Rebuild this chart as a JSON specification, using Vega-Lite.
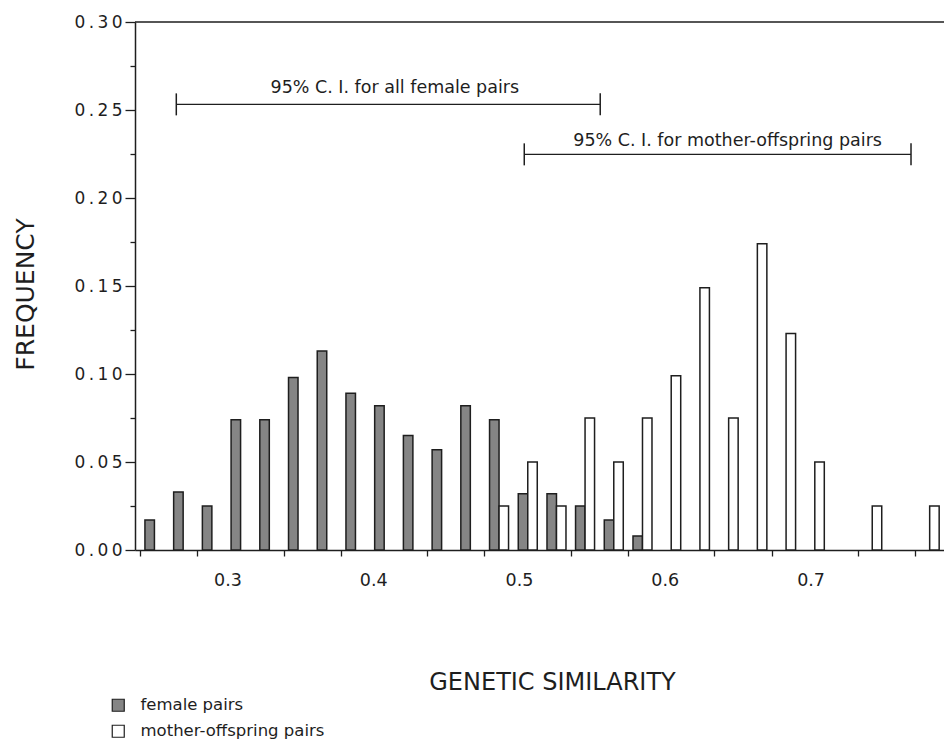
{
  "$schema": "https://vega.github.io/schema/vega-lite/v6.json",
  "autosize": {"type": "none"},
  "width": 809,
  "height": 528,
  "padding": {"left": 135, "top": 22, "right": 0, "bottom": 194},
  "background": "white",
  "config": {"view": {"stroke": null}, "font": "DejaVu Sans"},
  "datasets": {
    "bars": [
      {"sim": 0.2499, "freq": 0.017, "group": "female pairs"},
      {"sim": 0.2696, "freq": 0.033, "group": "female pairs"},
      {"sim": 0.2893, "freq": 0.025, "group": "female pairs"},
      {"sim": 0.3090, "freq": 0.074, "group": "female pairs"},
      {"sim": 0.3287, "freq": 0.074, "group": "female pairs"},
      {"sim": 0.3484, "freq": 0.098, "group": "female pairs"},
      {"sim": 0.3681, "freq": 0.113, "group": "female pairs"},
      {"sim": 0.3878, "freq": 0.089, "group": "female pairs"},
      {"sim": 0.4075, "freq": 0.082, "group": "female pairs"},
      {"sim": 0.4272, "freq": 0.065, "group": "female pairs"},
      {"sim": 0.4469, "freq": 0.057, "group": "female pairs"},
      {"sim": 0.4666, "freq": 0.082, "group": "female pairs"},
      {"sim": 0.4863, "freq": 0.074, "group": "female pairs"},
      {"sim": 0.5060, "freq": 0.032, "group": "female pairs"},
      {"sim": 0.5257, "freq": 0.032, "group": "female pairs"},
      {"sim": 0.5453, "freq": 0.025, "group": "female pairs"},
      {"sim": 0.5650, "freq": 0.017, "group": "female pairs"},
      {"sim": 0.5847, "freq": 0.008, "group": "female pairs"},
      {"sim": 0.4863, "freq": 0.025, "group": "mother-offspring pairs"},
      {"sim": 0.5060, "freq": 0.050, "group": "mother-offspring pairs"},
      {"sim": 0.5257, "freq": 0.025, "group": "mother-offspring pairs"},
      {"sim": 0.5453, "freq": 0.075, "group": "mother-offspring pairs"},
      {"sim": 0.5650, "freq": 0.050, "group": "mother-offspring pairs"},
      {"sim": 0.5847, "freq": 0.075, "group": "mother-offspring pairs"},
      {"sim": 0.6044, "freq": 0.099, "group": "mother-offspring pairs"},
      {"sim": 0.6241, "freq": 0.149, "group": "mother-offspring pairs"},
      {"sim": 0.6438, "freq": 0.075, "group": "mother-offspring pairs"},
      {"sim": 0.6635, "freq": 0.174, "group": "mother-offspring pairs"},
      {"sim": 0.6832, "freq": 0.123, "group": "mother-offspring pairs"},
      {"sim": 0.7029, "freq": 0.050, "group": "mother-offspring pairs"},
      {"sim": 0.7423, "freq": 0.025, "group": "mother-offspring pairs"},
      {"sim": 0.7817, "freq": 0.025, "group": "mother-offspring pairs"}
    ],
    "ci": [
      {"name": "all female pairs", "lo": 0.2649, "hi": 0.5557, "level": 0.2532},
      {"name": "mother-offspring pairs", "lo": 0.5036, "hi": 0.7689, "level": 0.2248}
    ],
    "notes": [
      {"text": "95% C. I. for all female pairs", "x": 0.4148, "y": 0.2597},
      {"text": "95% C. I. for mother-offspring pairs", "x": 0.6431, "y": 0.2295}
    ]
  },
  "layer": [
    {
      "data": {"name": "bars"},
      "transform": [{"filter": "datum.group == 'female pairs'"}],
      "mark": {"type": "bar", "width": 9.5, "xOffset": -4.75, "stroke": "#1e1e1e", "strokeWidth": 1.5},
      "encoding": {
        "x": {
          "field": "sim", "type": "quantitative",
          "scale": {"domain": [0.24, 0.7881], "nice": false, "zero": false},
          "axis": {
            "values": [0.24, 0.2597, 0.2794, 0.2991, 0.3188, 0.3385, 0.3582, 0.3779, 0.3976, 0.4173, 0.437, 0.4566, 0.4763, 0.496, 0.5157, 0.5354, 0.5551, 0.5748, 0.5945, 0.6142, 0.6339, 0.6536, 0.6733, 0.693, 0.7127, 0.7324, 0.7521, 0.7718, 0.3, 0.4, 0.5, 0.6, 0.7],
            "tickOpacity": {"condition": {"test": "indexof([0.3,0.4,0.5,0.6,0.7], datum.value) >= 0", "value": 0}, "value": 1},
            "labelExpr": "indexof([0.3,0.4,0.5,0.6,0.7], datum.value) >= 0 ? format(datum.value, '.1f') : ''",
            "labelOverlap": false, "labelFlush": false, "labelBound": false,
            "tickSize": 6, "tickWidth": 1.3, "tickColor": "#1e1e1e",
            "domainColor": "#1e1e1e", "domainWidth": 1.5,
            "labelFontSize": 17.5, "labelColor": "#1e1e1e", "labelPadding": 15,
            "grid": false,
            "title": "GENETIC SIMILARITY", "titleFontSize": 24, "titleFontWeight": "normal", "titleColor": "#1e1e1e",
            "titleX": 417, "titleY": 139, "titleBaseline": "alphabetic", "titleAlign": "center"
          }
        },
        "y": {
          "field": "freq", "type": "quantitative",
          "scale": {"domain": [0, 0.3], "nice": false},
          "axis": {
            "values": [0, 0.025, 0.05, 0.075, 0.1, 0.125, 0.15, 0.175, 0.2, 0.225, 0.25, 0.275, 0.3],
            "tickSize": {"condition": {"test": "indexof([0.025,0.075,0.125,0.175,0.225,0.275], datum.value) >= 0", "value": 5}, "value": 10},
            "labelExpr": "indexof([0.025,0.075,0.125,0.175,0.225,0.275], datum.value) >= 0 ? '' : slice(format(datum.value,'.2f'),0,1) + '\u2009' + slice(format(datum.value,'.2f'),1,2) + '\u2009' + slice(format(datum.value,'.2f'),2,3) + '\u2009' + slice(format(datum.value,'.2f'),3,4)",
            "labelOverlap": false, "labelFlush": false, "labelBound": false,
            "tickWidth": 1.3, "tickColor": "#1e1e1e",
            "domainColor": "#1e1e1e", "domainWidth": 1.5,
            "labelFontSize": 17, "labelColor": "#1e1e1e", "labelPadding": 3,
            "grid": false,
            "title": "FREQUENCY", "titleFontSize": 25, "titleFontWeight": "normal", "titleColor": "#1e1e1e",
            "titleX": -110, "titleY": 272, "titleAngle": -90, "titleBaseline": "middle", "titleAlign": "center"
          }
        },
        "fill": {
          "field": "group", "type": "nominal",
          "scale": {"domain": ["female pairs", "mother-offspring pairs"], "range": ["#858585", "#ffffff"]},
          "legend": {
            "title": null, "orient": "none", "legendX": -25, "legendY": 675,
            "symbolType": "square", "symbolSize": 144, "symbolStrokeColor": "#1e1e1e", "symbolStrokeWidth": 1.2, "symbolOpacity": 1,
            "labelFont": "DejaVu Sans", "labelFontSize": 16.5, "labelColor": "#1e1e1e", "labelOffset": 14, "labelLimit": 0,
            "rowPadding": 8, "padding": 0
          }
        }
      }
    },
    {
      "data": {"name": "bars"},
      "transform": [{"filter": "datum.group == 'mother-offspring pairs'"}],
      "mark": {"type": "bar", "width": 9.5, "xOffset": 4.75, "stroke": "#1e1e1e", "strokeWidth": 1.5},
      "encoding": {
        "x": {"field": "sim", "type": "quantitative"},
        "y": {"field": "freq", "type": "quantitative"},
        "fill": {"field": "group", "type": "nominal"}
      }
    },
    {
      "data": {"values": [{"top": 0.3}]},
      "mark": {"type": "rule", "color": "#1e1e1e", "strokeWidth": 1.5},
      "encoding": {"y": {"field": "top", "type": "quantitative"}}
    },
    {
      "data": {"name": "ci"},
      "mark": {"type": "rule", "color": "#1e1e1e", "strokeWidth": 1.4},
      "encoding": {
        "x": {"field": "lo", "type": "quantitative"},
        "x2": {"field": "hi"},
        "y": {"field": "level", "type": "quantitative"}
      }
    },
    {
      "data": {"name": "ci"},
      "mark": {"type": "tick", "orient": "vertical", "color": "#1e1e1e", "size": 22, "thickness": 1.5, "opacity": 1},
      "encoding": {
        "x": {"field": "lo", "type": "quantitative"},
        "y": {"field": "level", "type": "quantitative"}
      }
    },
    {
      "data": {"name": "ci"},
      "mark": {"type": "tick", "orient": "vertical", "color": "#1e1e1e", "size": 22, "thickness": 1.5, "opacity": 1},
      "encoding": {
        "x": {"field": "hi", "type": "quantitative"},
        "y": {"field": "level", "type": "quantitative"}
      }
    },
    {
      "data": {"name": "notes"},
      "mark": {"type": "text", "align": "center", "baseline": "alphabetic", "fontSize": 17.5, "color": "#1e1e1e", "font": "DejaVu Sans"},
      "encoding": {
        "x": {"field": "x", "type": "quantitative"},
        "y": {"field": "y", "type": "quantitative"},
        "text": {"field": "text"}
      }
    }
  ]
}
